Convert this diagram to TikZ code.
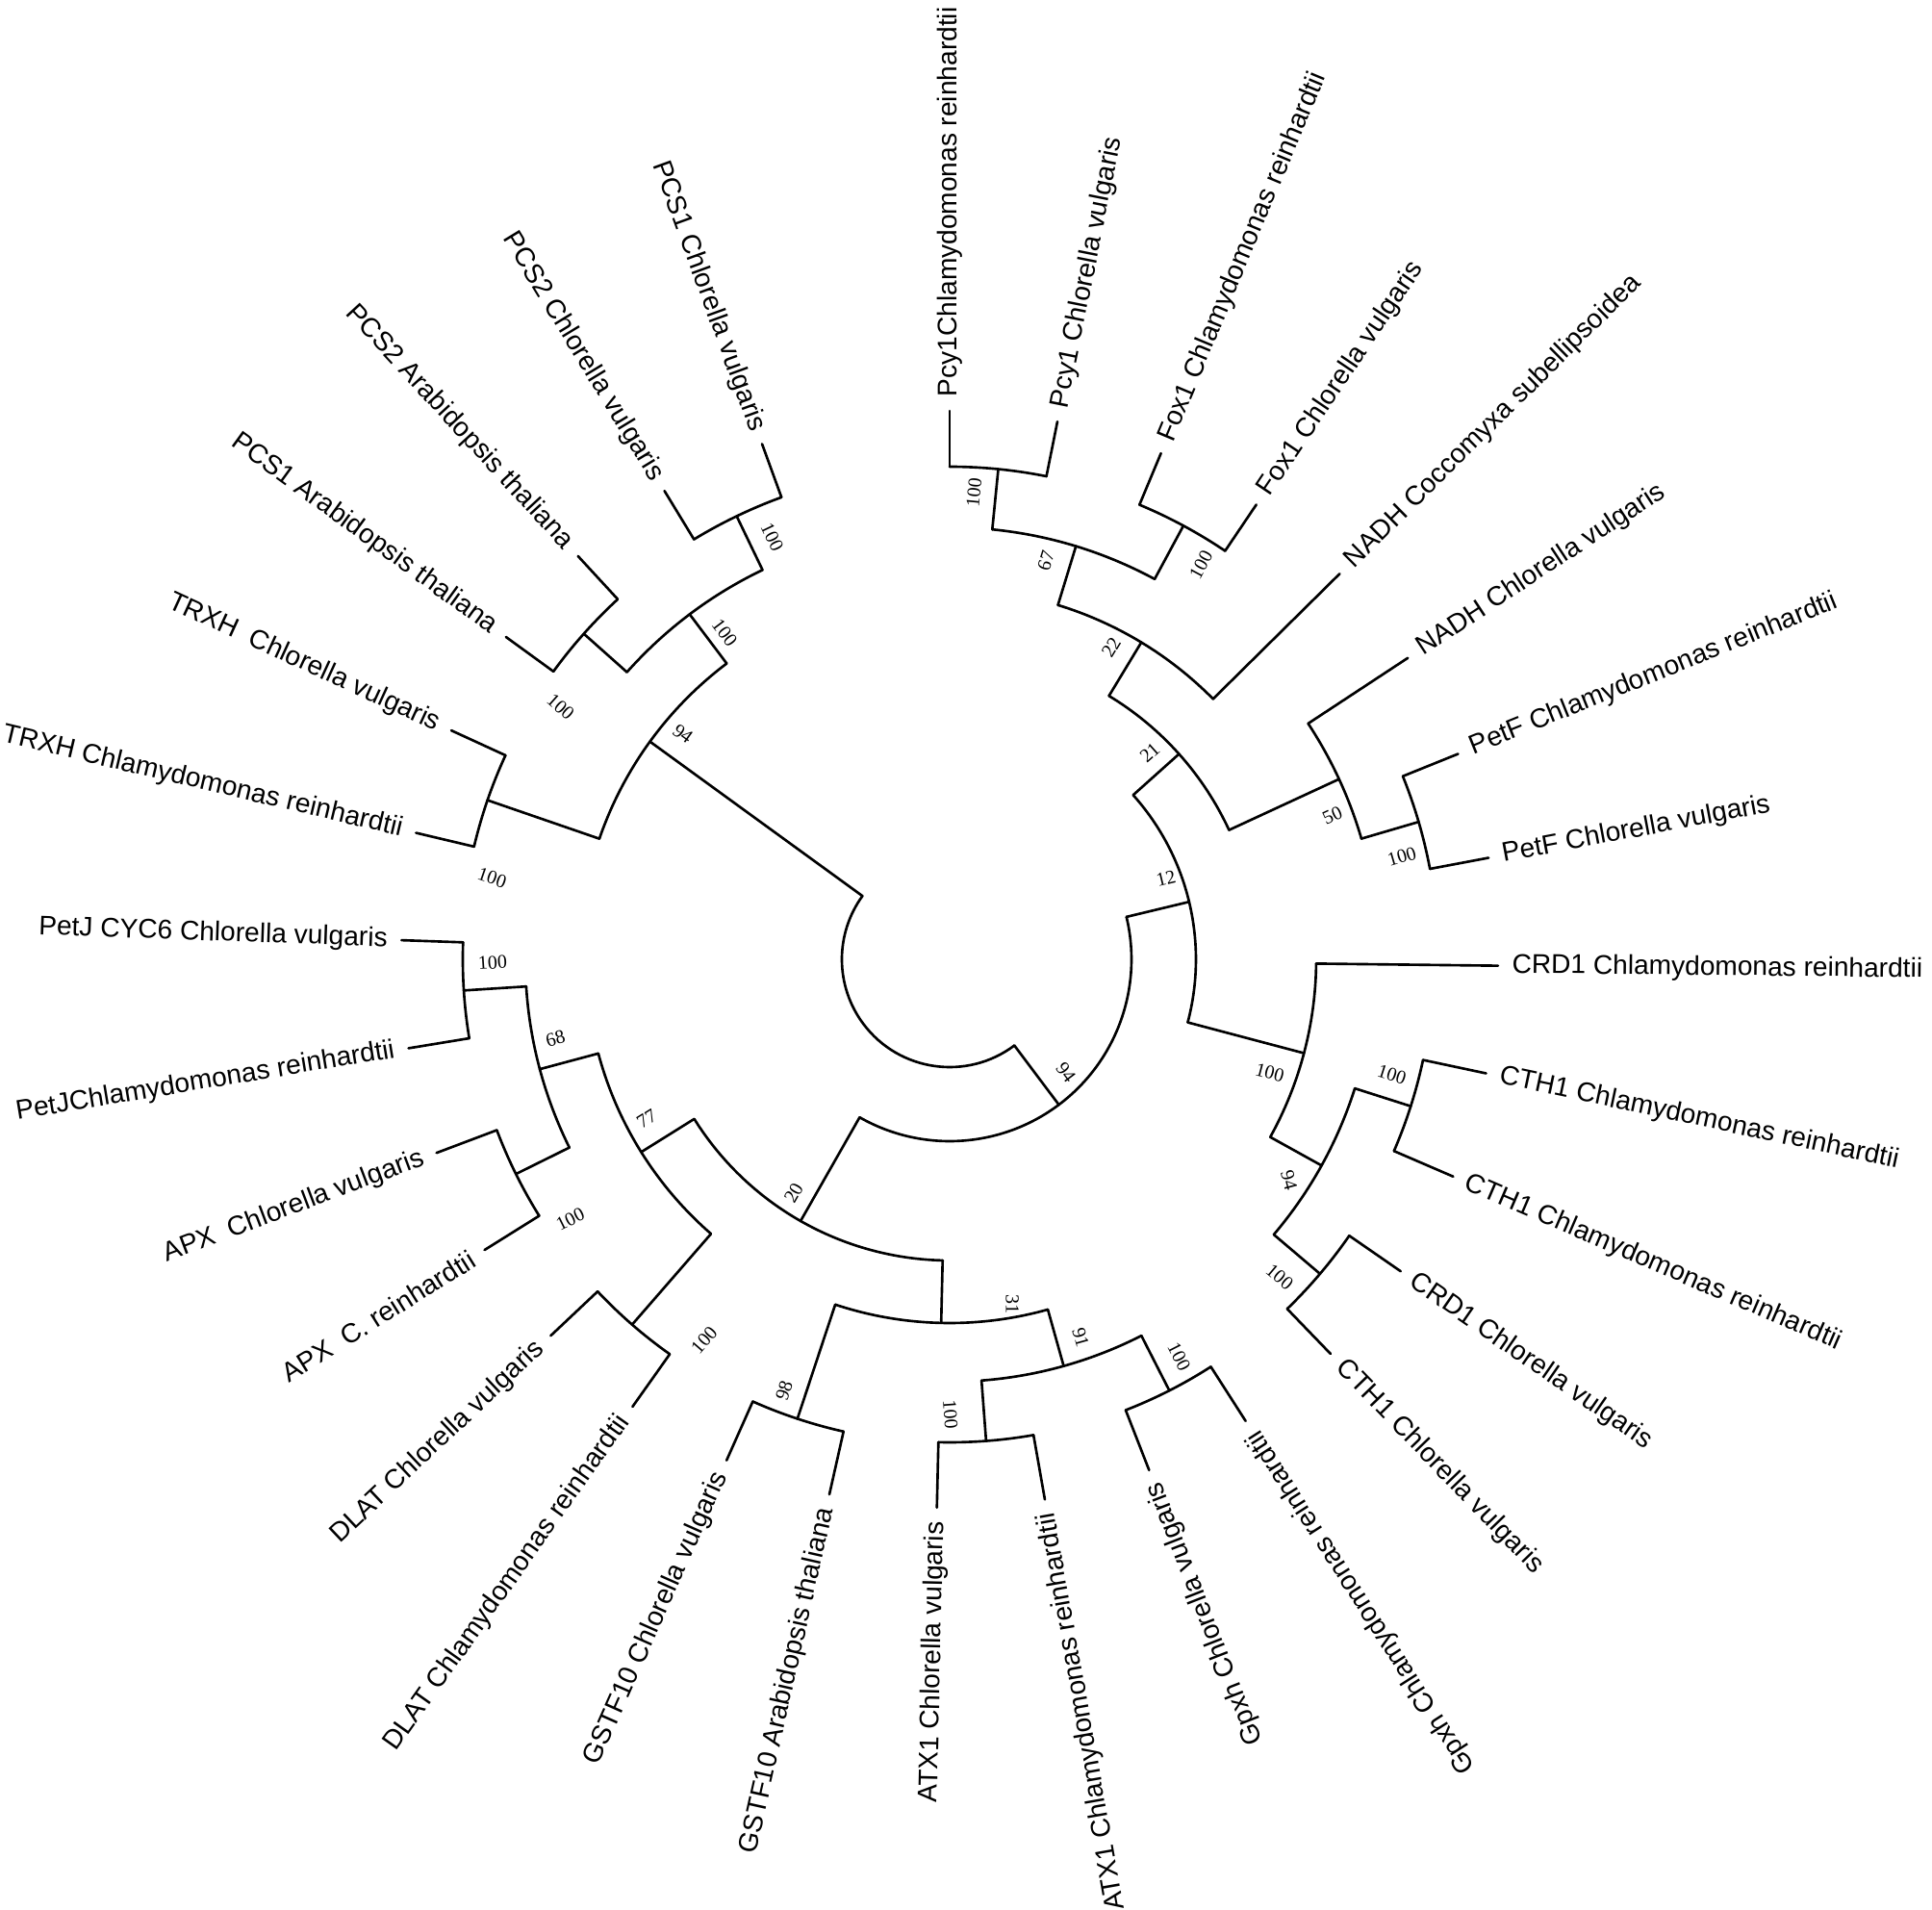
\documentclass[tikz,border=0pt]{standalone}
\usepackage{fontspec}
\setmainfont{Liberation Sans}
\newfontfamily\bsfont{Liberation Serif}
\tikzset{
  branch/.style={line width=0.75pt, line cap=round, line join=round},
  leaflab/.style={font=\fontsize{8.0}{9}\selectfont, inner sep=0pt},
  bslab/.style={font=\bsfont\fontsize{5.7}{6}\selectfont, inner sep=0pt}
}
% internal node: name, angle, parent radius, radius, child angle 1, child angle 2
\newcommand\TreeNode[6]{%
  \coordinate (#1-s) at (#2:#3);
  \coordinate (#1) at (#2:#4);
  \draw[branch] (#1-s) -- (#1);
  \draw[branch] (#1) arc[start angle=#2, end angle=#5, radius=#4]
                (#1) arc[start angle=#2, end angle=#6, radius=#4];
}
% leaf, label reading outward
\newcommand\LeafOut[4]{%
  \coordinate (#1-s) at (#2:#3);
  \coordinate (#1-t) at (#2:5.70);
  \draw[branch] (#1-s) -- (#1-t);
  \node[leaflab, anchor=west, rotate=#2] (#1) at (#2:5.84) {#4};
}
% leaf, label reading inward
\newcommand\LeafIn[4]{%
  \coordinate (#1-s) at (#2:#3);
  \coordinate (#1-t) at (#2:5.70);
  \draw[branch] (#1-s) -- (#1-t);
  \node[leaflab, anchor=east, rotate=#2+180] (#1) at (#2:5.84) {#4};
}
\begin{document}
\begin{tikzpicture}
\useasboundingbox (-9.87,-9.88) rectangle (10.21,9.97);
\fill[white] (-9.87,-9.88) rectangle (10.21,9.97);

% ---------- internal nodes ----------
\TreeNode{N01}{84.333}{4.49}{5.12}{90}{78.667}
\TreeNode{N23}{61.667}{4.49}{5.12}{67.333}{56}
\TreeNode{N03}{73}{3.85}{4.49}{84.333}{61.667}
\TreeNode{N04}{58.833}{3.20}{3.85}{73}{44.667}
\TreeNode{N67}{16.333}{4.46}{5.08}{22}{10.667}
\TreeNode{N57}{24.833}{3.20}{4.46}{33.333}{16.333}
\TreeNode{N07}{41.833}{2.56}{3.20}{58.833}{24.833}
\TreeNode{N910}{-17.667}{4.42}{5.03}{-12}{-23.333}
\TreeNode{N1112}{-40.333}{4.42}{5.05}{-34.667}{-46}
\TreeNode{N912}{-29}{3.81}{4.42}{-17.667}{-40.333}
\TreeNode{N812}{-14.833}{2.56}{3.81}{-0.667}{-29}
\TreeNode{N012}{13.5}{1.89}{2.56}{41.833}{-14.833}
\TreeNode{N1314}{-63}{4.39}{5.03}{-57.333}{-68.667}
\TreeNode{N1516}{-85.667}{4.39}{5.02}{-80}{-91.333}
\TreeNode{N1316}{-74.333}{3.78}{4.39}{-63}{-85.667}
\TreeNode{N1718}{-108.333}{3.78}{5.03}{-102.667}{-114}
\TreeNode{N1318}{-91.333}{3.13}{3.78}{-74.333}{-108.333}
\TreeNode{N1920}{-131}{3.78}{5.03}{-125.333}{-136.667}
\TreeNode{N2122}{-153.667}{4.41}{5.03}{-148}{-159.333}
\TreeNode{N2324}{-176.333}{4.41}{5.06}{-170.667}{-182}
\TreeNode{N2124}{-165}{3.78}{4.41}{-153.667}{-176.333}
\TreeNode{N1924}{-148}{3.13}{3.78}{-131}{-165}
\TreeNode{N1324}{-119.667}{1.89}{3.13}{-91.333}{-148}
\TreeNode{N024}{-53.083}{1.12}{1.89}{13.5}{-119.667}
\TreeNode{N2526}{-199}{3.85}{5.08}{-193.333}{-204.667}
\TreeNode{N2728}{-221.667}{4.49}{5.09}{-216}{-227.333}
\TreeNode{N2930}{-244.333}{4.49}{5.11}{-238.667}{-250}
\TreeNode{N2730}{-233}{3.85}{4.49}{-221.667}{-244.333}
\TreeNode{N2530}{-216}{1.12}{3.85}{-199}{-233}
% root arc
\draw[branch] (N024-s) arc[start angle=-53.083, end angle=-216, radius=1.12];

% ---------- leaves ----------
\LeafOut{L0}{90}{5.12}{Pcy1Chlamydomonas reinhardtii}
\LeafOut{L1}{78.667}{5.12}{Pcy1 Chlorella vulgaris}
\LeafOut{L2}{67.333}{5.12}{Fox1 Chlamydomonas reinhardtii}
\LeafOut{L3}{56}{5.12}{Fox1 Chlorella vulgaris}
\LeafOut{L4}{44.667}{3.85}{NADH Coccomyxa subellipsoidea}
\LeafOut{L5}{33.333}{4.46}{NADH Chlorella vulgaris}
\LeafOut{L6}{22}{5.08}{PetF Chlamydomonas reinhardtii}
\LeafOut{L7}{10.667}{5.08}{PetF Chlorella vulgaris}
\LeafOut{L8}{-0.667}{3.81}{CRD1 Chlamydomonas reinhardtii}
\LeafOut{L9}{-12}{5.03}{CTH1 Chlamydomonas reinhardtii}
\LeafOut{L10}{-23.333}{5.03}{CTH1 Chlamydomonas reinhardtii}
\LeafOut{L11}{-34.667}{5.05}{CRD1 Chlorella vulgaris}
\LeafOut{L12}{-46}{5.05}{CTH1 Chlorella vulgaris}
\LeafIn{L13}{-57.333}{5.03}{Gpxh Chlamydomonas reinhardtii}
\LeafIn{L14}{-68.667}{5.03}{Gpxh Chlorella vulgaris}
\LeafIn{L15}{-80}{5.02}{ATX1 Chlamydomonas reinhardtii}
\LeafIn{L16}{-91.333}{5.02}{ATX1 Chlorella vulgaris}
\LeafIn{L17}{-102.667}{5.03}{GSTF10 Arabidopsis thaliana}
\LeafIn{L18}{-114}{5.03}{GSTF10 Chlorella vulgaris}
\LeafIn{L19}{-125.333}{5.03}{DLAT Chlamydomonas reinhardtii}
\LeafIn{L20}{-136.667}{5.03}{DLAT Chlorella vulgaris}
\LeafIn{L21}{-148}{5.03}{APX\hspace{0.55em}C. reinhardtii}
\LeafIn{L22}{-159.333}{5.03}{APX\hspace{0.55em}Chlorella vulgaris}
\LeafIn{L23}{-170.667}{5.06}{PetJChlamydomonas reinhardtii}
\LeafIn{L24}{-182}{5.06}{PetJ CYC6 Chlorella vulgaris}
\LeafIn{L25}{-193.333}{5.08}{TRXH Chlamydomonas reinhardtii}
\LeafIn{L26}{-204.667}{5.08}{TRXH\hspace{0.55em}Chlorella vulgaris}
\LeafIn{L27}{-216}{5.09}{PCS1 Arabidopsis thaliana}
\LeafIn{L28}{-227.333}{5.09}{PCS2 Arabidopsis thaliana}
\LeafIn{L29}{-238.667}{5.11}{PCS2 Chlorella vulgaris}
\LeafIn{L30}{-250}{5.11}{PCS1 Chlorella vulgaris}

% ---------- bootstrap values ----------
\node[bslab, rotate=84.3]  (bN01)   at (87:4.86)     {100};
\node[bslab, rotate=61.7]  (bN23)   at (57.5:4.86)   {100};
\node[bslab, rotate=73]    (bN03)   at (76.4:4.26)   {67};
\node[bslab, rotate=58.8]  (bN04)   at (62.6:3.65)   {22};
\node[bslab, rotate=41.8]  (bN07)   at (45.9:2.99)   {21};
\node[bslab, rotate=24.8]  (bN57)   at (20.6:4.25)   {50};
\node[bslab, rotate=16.3]  (bN67)   at (12.8:4.82)   {100};
\node[bslab, rotate=13.5]  (bN012)  at (20.5:2.40)   {12};
\node[bslab, rotate=-14.8] (bN812)  at (-19.5:3.53)  {100};
\node[bslab, rotate=-17.7] (bN910)  at (-14.6:4.75)  {100};
\node[bslab, rotate=-75]   (bN912)  at (-33.1:4.21)  {94};
\node[bslab, rotate=-40.3] (bN1112) at (-43.9:4.76)  {100};
\node[bslab, rotate=-63]   (bN1314) at (-60:4.77)    {100};
\node[bslab, rotate=-74.3] (bN1316) at (-70.9:4.16)  {91};
\node[bslab, rotate=-90]   (bN1318) at (-79.7:3.64)  {31};
\node[bslab, rotate=-85.7] (bN1516) at (-89.9:4.73)  {100};
\node[bslab, rotate=-53]   (bN024)  at (-44.3:1.69)  {94};
\node[bslab, rotate=71.7]  (bN1718) at (-111:4.80)   {98};
\node[bslab, rotate=60.3]  (bN1324) at (-123.7:2.92) {20};
\node[bslab, rotate=49]    (bN1920) at (-122.8:4.71) {100};
\node[bslab, rotate=32]    (bN1924) at (-152.2:3.56) {77};
\node[bslab, rotate=26.3]  (bN2122) at (-145.6:4.78) {100};
\node[bslab, rotate=15]    (bN2124) at (-168.6:4.18) {68};
\node[bslab, rotate=3.7]   (bN2324) at (-179.6:4.75) {100};
\node[bslab, rotate=-19]   (bN2526) at (169.9:4.83)  {100};
\node[bslab, rotate=-41.7] (bN2728) at (147:4.82)    {100};
\node[bslab, rotate=-64.3] (bN2930) at (112.8:4.76)  {100};
\node[bslab, rotate=-53]   (bN2730) at (124.6:4.12)  {100};
\node[bslab, rotate=-36]   (bN2530) at (139.8:3.63)  {94};
\end{tikzpicture}
\end{document}
